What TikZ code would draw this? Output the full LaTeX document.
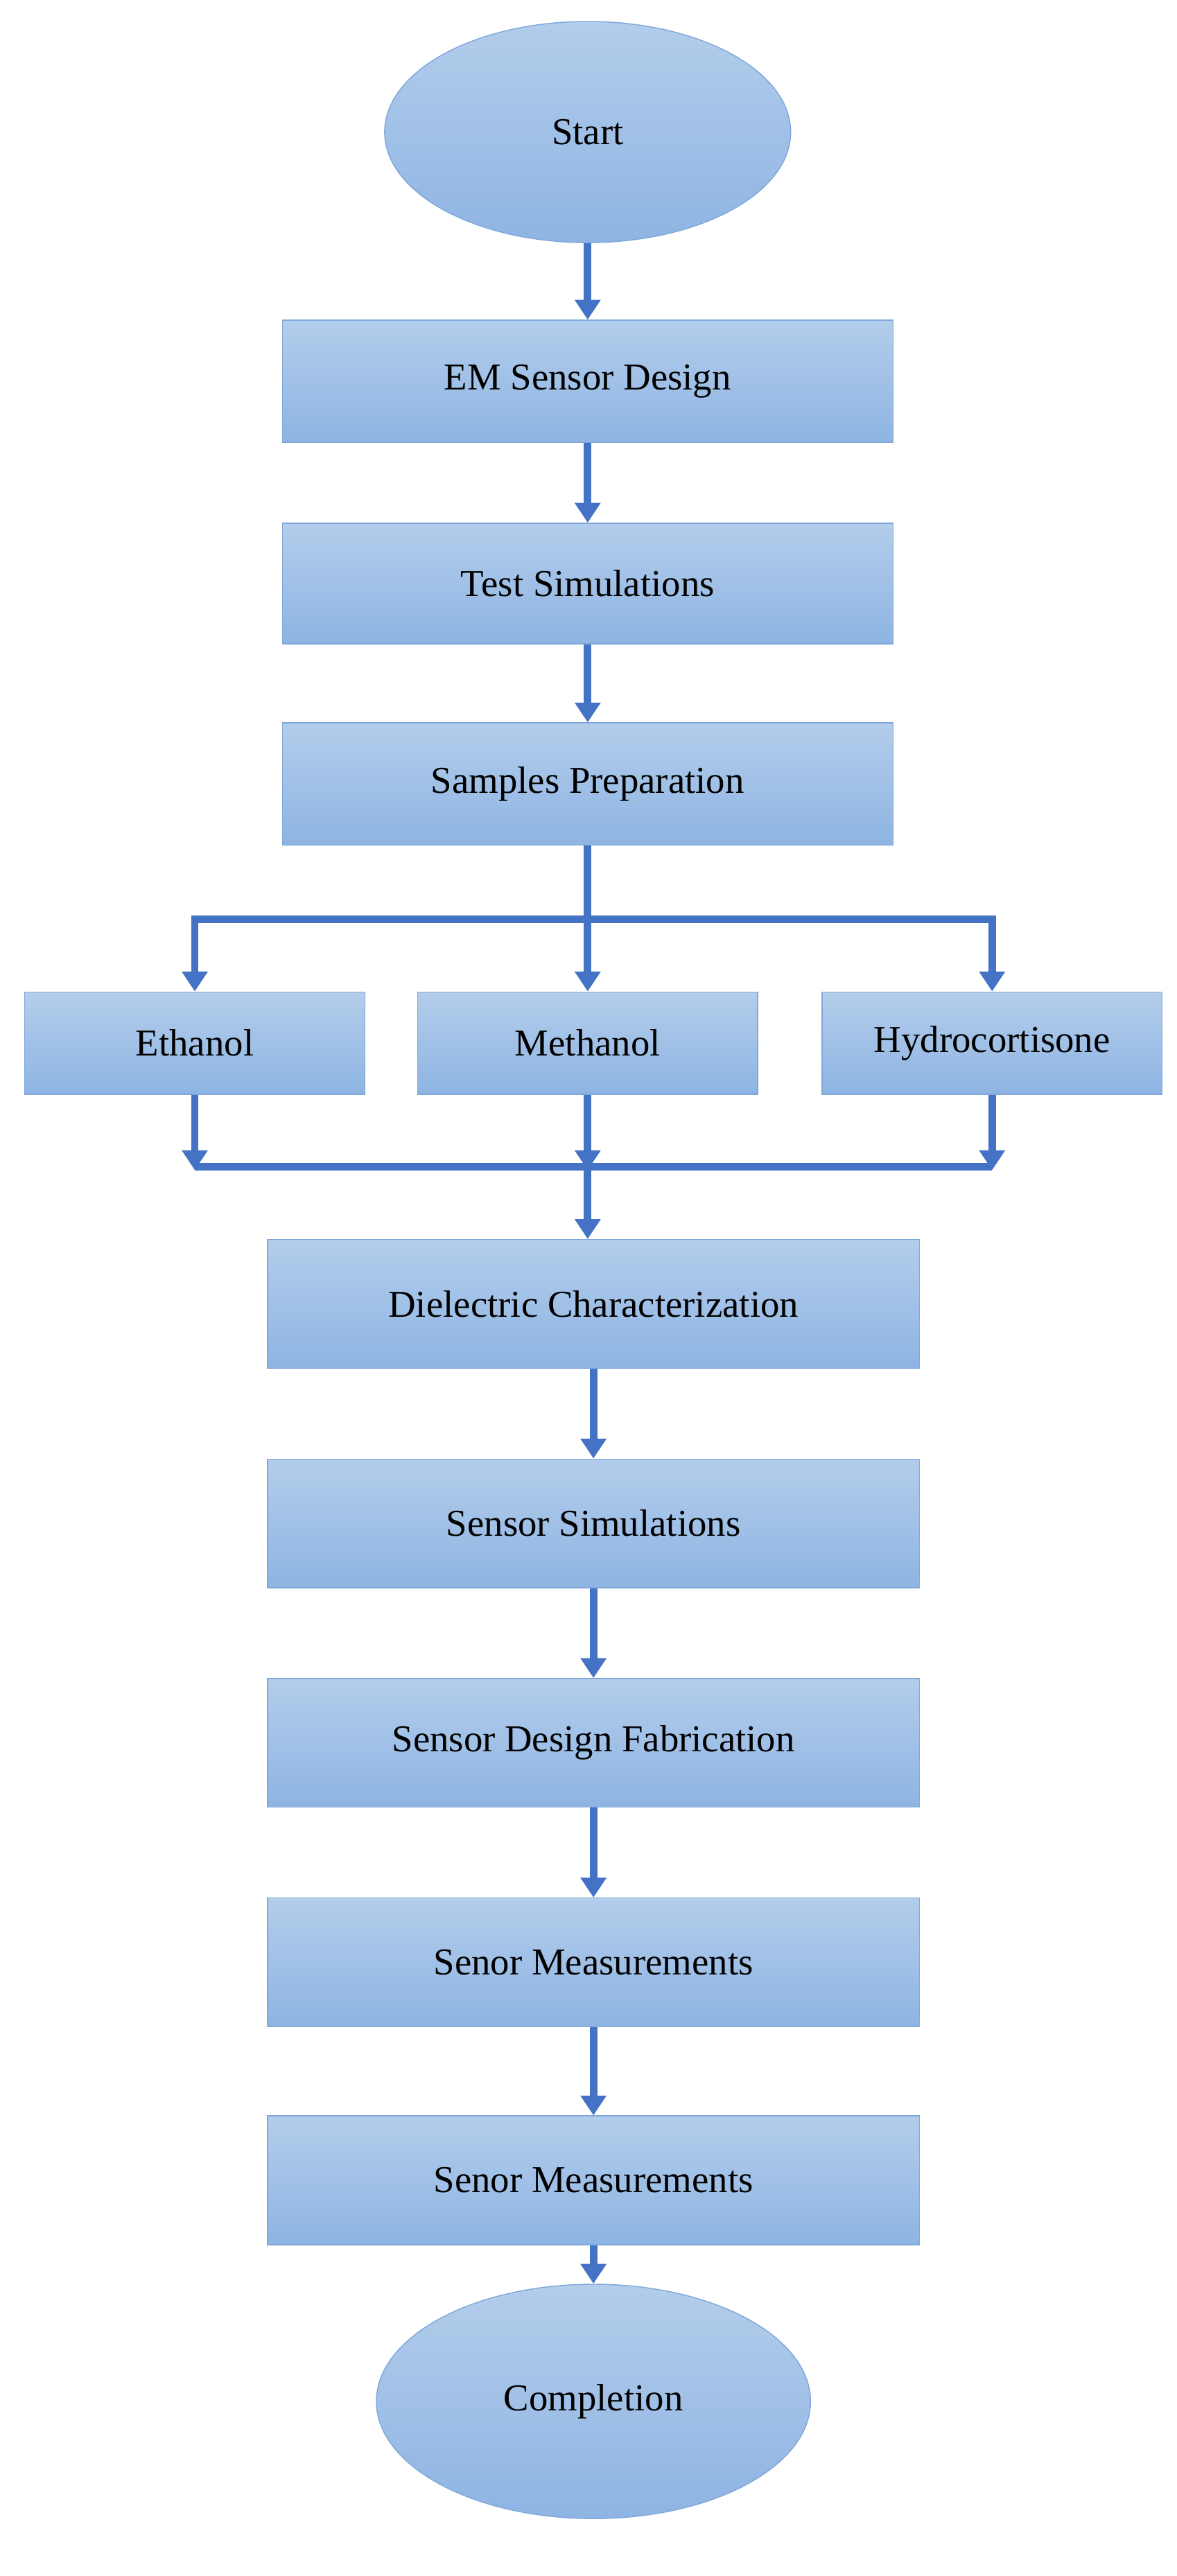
\documentclass[tikz,border=0pt]{standalone}
\usepackage{fontspec}
\setmainfont{Liberation Serif}
\usetikzlibrary{shapes.geometric,arrows.meta}
\definecolor{lncol}{HTML}{4472C4}
\definecolor{topc}{HTML}{B3CDEB}
\definecolor{botc}{HTML}{8EB4E3}
\definecolor{bdc}{HTML}{7FA7D9}
\begin{document}
\begin{tikzpicture}[x=1pt,y=-1pt,
 box/.style={draw=bdc,line width=0.6pt,top color=topc,bottom color=botc,inner sep=0pt,font=\fontsize{23}{27}\selectfont},
 el/.style={box,ellipse},
 arr/.style={draw=lncol,line width=4.5pt,-{Triangle[length=12pt,width=15pt]}},
 seg/.style={draw=lncol,line width=4.5pt}]
\useasboundingbox (0,0) rectangle (713,1560.8);
\node[el,minimum width=246pt,minimum height=134pt] (start) at (356,80) {Start};
\node[box,minimum width=370pt,minimum height=74pt] (em) at (356,231) {EM Sensor Design};
\node[box,minimum width=370pt,minimum height=73pt] (ts) at (356,353.5) {Test Simulations};
\node[box,minimum width=370pt,minimum height=74pt] (sp) at (356,475) {Samples Preparation};
\node[box,minimum width=206pt,minimum height=62pt] (eth) at (118,632) {Ethanol};
\node[box,minimum width=206pt,minimum height=62pt] (met) at (356,632) {Methanol};
\node[box,minimum width=206pt,minimum height=62pt] (hyd) at (601,632) {Hydrocortisone};
\node[box,minimum width=395pt,minimum height=78pt] (die) at (359.5,790) {Dielectric Characterization};
\node[box,minimum width=395pt,minimum height=78pt] (ss) at (359.5,923) {Sensor Simulations};
\node[box,minimum width=395pt,minimum height=78pt] (fab) at (359.5,1056) {Sensor Design Fabrication};
\node[box,minimum width=395pt,minimum height=78pt] (m1) at (359.5,1189) {Senor Measurements};
\node[box,minimum width=395pt,minimum height=78pt] (m2) at (359.5,1321) {Senor Measurements};
\node[el,minimum width=263pt,minimum height=142pt] (comp) at (359.5,1455) {Completion};
\coordinate (bl) at (118,557); \coordinate (bm) at (356,557); \coordinate (br) at (601,557);
\coordinate (ml) at (118,707); \coordinate (mm) at (356,707); \coordinate (mr) at (601,707);
\draw[arr] (start) -- (em);
\draw[arr] (em) -- (ts);
\draw[arr] (ts) -- (sp);
\draw[seg] (sp) -- (bm);
\draw[seg] ([xshift=-2.25pt]bl) -- ([xshift=2.25pt]br);
\draw[arr] (bl) -- (eth);
\draw[arr] (bm) -- (met);
\draw[arr] (br) -- (hyd);
\draw[arr] (eth.south) -- ([yshift=-2pt]ml);
\draw[arr] (met.south) -- ([yshift=-2pt]mm);
\draw[arr] (hyd.south) -- ([yshift=-2pt]mr);
\draw[seg] (ml) -- (mr);
\draw[arr] (mm) -- (mm |- die.north);
\draw[arr] (die) -- (ss);
\draw[arr] (ss) -- (fab);
\draw[arr] (fab) -- (m1);
\draw[arr] (m1) -- (m2);
\draw[arr] (m2) -- (comp);
\end{tikzpicture}
\end{document}
